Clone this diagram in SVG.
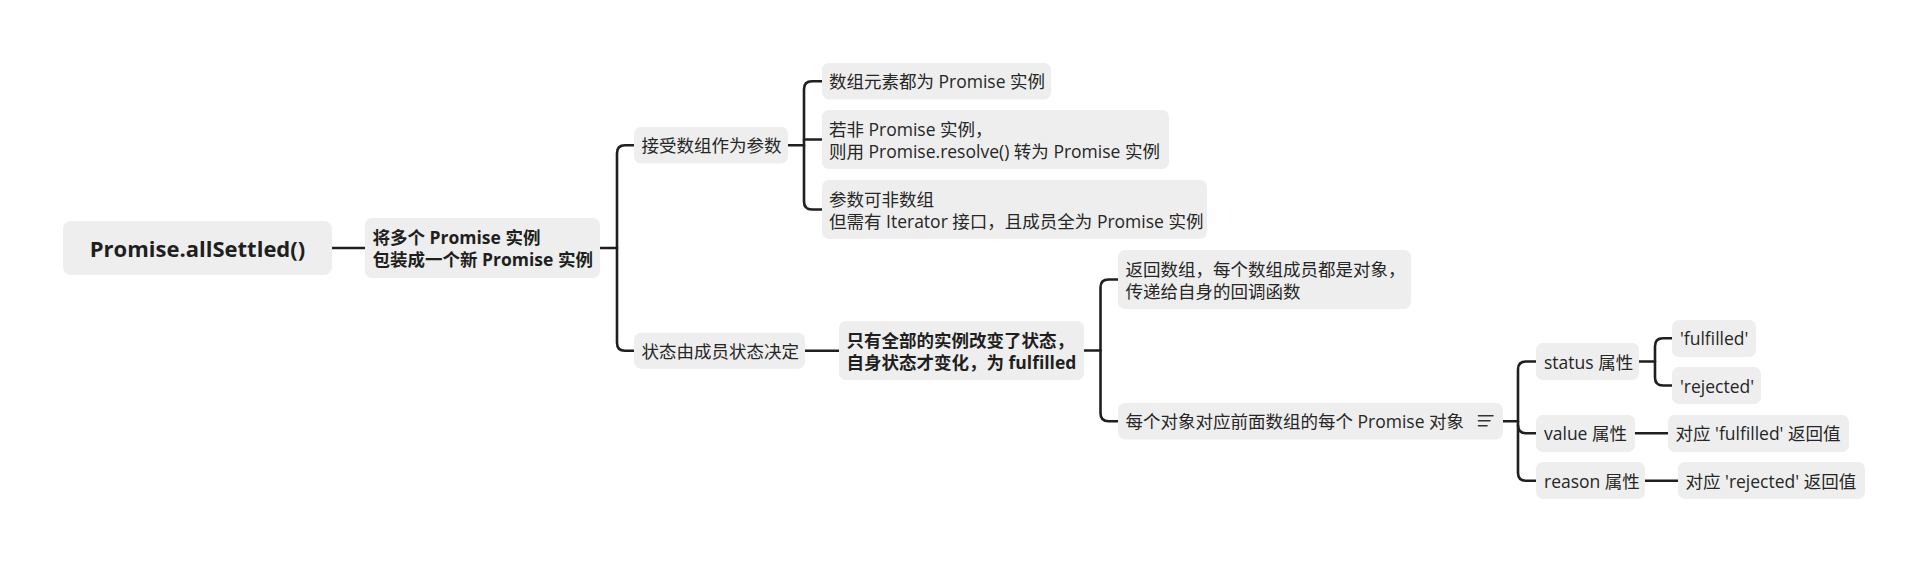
<svg xmlns="http://www.w3.org/2000/svg" width="1928" height="562" viewBox="0 0 1928 562">
<style>
.box{fill:#eeeeee}
.t{font-family:"Open Sans","Noto Sans CJK SC",sans-serif;font-size:17.5px;fill:#262626}
.b{font-weight:bold;fill:#1f1f1f}
.root{font-family:"Open Sans","Noto Sans CJK SC",sans-serif;font-size:22px;font-weight:bold;fill:#1f1f1f}
.c{fill:none;stroke:#1f1f1f;stroke-width:2.6;stroke-linecap:round;stroke-linejoin:round}
.ic{stroke:#333;stroke-width:1.6;stroke-linecap:round}
</style>
<rect width="1928" height="562" fill="#ffffff"/>
<g id="connectors">
<path class="c" d="M332 248 H365"/>
<path class="c" d="M600 248 H617"/>
<path class="c" d="M634 145.3 H625 Q617 145.3 617 153.3 V342.7 Q617 350.7 625 350.7 H634"/>
<path class="c" d="M788 145.3 H804"/>
<path class="c" d="M822 81.3 H812 Q804 81.3 804 89.3 V201.5 Q804 209.5 812 209.5 H822"/>
<path class="c" d="M804 139.5 H822"/>
<path class="c" d="M805 350.7 H839"/>
<path class="c" d="M1084 350.5 H1100.5"/>
<path class="c" d="M1118 279.5 H1108.5 Q1100.5 279.5 1100.5 287.5 V413.3 Q1100.5 421.3 1108.5 421.3 H1118"/>
<path class="c" d="M1503 421.3 H1518"/>
<path class="c" d="M1536 361.5 H1526 Q1518 361.5 1518 369.5 V472.7 Q1518 480.7 1526 480.7 H1536"/>
<path class="c" d="M1518 425.3 Q1518 433.3 1526 433.3 H1536"/>
<path class="c" d="M1639 361.5 H1655"/>
<path class="c" d="M1672 338.3 H1663 Q1655 338.3 1655 346.3 V377.5 Q1655 385.5 1663 385.5 H1672"/>
<path class="c" d="M1635 433.3 H1668"/>
<path class="c" d="M1645 480.7 H1678"/>
</g>
<g id="root">
<rect class="box" x="63" y="221" width="269" height="54" rx="8"/>
<text class="root" x="197.5" y="256.5" text-anchor="middle">Promise.allSettled()</text>
</g>
<g id="n-wrap">
<rect class="box" x="365" y="218" width="235" height="60" rx="7"/>
<text class="t b" x="372.5"><tspan x="372.5" y="244">将多个 Promise 实例</tspan><tspan x="372.5" y="266">包装成一个新 Promise 实例</tspan></text>
</g>
<g id="n-accept">
<rect class="box" x="634" y="127" width="154" height="36.6" rx="7"/>
<text class="t" x="641.5" y="152.3">接受数组作为参数</text>
</g>
<g id="n-state">
<rect class="box" x="634" y="332.7" width="171" height="36" rx="7"/>
<text class="t" x="641.5" y="357.7">状态由成员状态决定</text>
</g>
<g id="n-elements">
<rect class="box" x="822" y="63" width="229" height="36.6" rx="7"/>
<text class="t" x="829" y="88.3">数组元素都为 Promise 实例</text>
</g>
<g id="n-nonpromise">
<rect class="box" x="822" y="110" width="347" height="59" rx="7"/>
<text class="t" x="829"><tspan x="829" y="135.5">若非 Promise 实例，</tspan><tspan x="829" y="157.5">则用 Promise.resolve() 转为 Promise 实例</tspan></text>
</g>
<g id="n-iterator">
<rect class="box" x="822" y="180" width="385" height="59" rx="7"/>
<text class="t" x="829"><tspan x="829" y="205.5">参数可非数组</tspan><tspan x="829" y="227.5">但需有 Iterator 接口，且成员全为 Promise 实例</tspan></text>
</g>
<g id="n-all">
<rect class="box" x="839" y="321" width="245" height="59" rx="7"/>
<text class="t b" x="846.5"><tspan x="846.5" y="346.5">只有全部的实例改变了状态，</tspan><tspan x="846.5" y="368.5">自身状态才变化，为 fulfilled</tspan></text>
</g>
<g id="n-return">
<rect class="box" x="1118" y="250" width="293" height="59" rx="7"/>
<text class="t" x="1125.5"><tspan x="1125.5" y="275.5">返回数组，每个数组成员都是对象，</tspan><tspan x="1125.5" y="297.5">传递给自身的回调函数</tspan></text>
</g>
<g id="n-each">
<rect class="box" x="1118" y="403" width="385" height="36.6" rx="7"/>
<text class="t" x="1125.5" y="428.3">每个对象对应前面数组的每个 Promise 对象</text>
<line class="ic" x1="1478.5" y1="415.7" x2="1493" y2="415.7"/>
<line class="ic" x1="1478.5" y1="420.7" x2="1490" y2="420.7"/>
<line class="ic" x1="1478.5" y1="425.7" x2="1487" y2="425.7"/>
</g>
<g id="n-status">
<rect class="box" x="1536" y="343" width="103" height="37" rx="7"/>
<text class="t" x="1544" y="368.5">status 属性</text>
</g>
<g id="n-value">
<rect class="box" x="1536" y="415" width="99" height="37" rx="7"/>
<text class="t" x="1544" y="440.3">value 属性</text>
</g>
<g id="n-reason">
<rect class="box" x="1536" y="462" width="109" height="37" rx="7"/>
<text class="t" x="1544" y="487.7">reason 属性</text>
</g>
<g id="n-fulfilled">
<rect class="box" x="1672" y="320" width="84" height="37" rx="7"/>
<text class="t" x="1680" y="345.3">'fulfilled'</text>
</g>
<g id="n-rejected">
<rect class="box" x="1672" y="367" width="89" height="37" rx="7"/>
<text class="t" x="1680" y="392.5">'rejected'</text>
</g>
<g id="n-value-desc">
<rect class="box" x="1668" y="415" width="181" height="37" rx="7"/>
<text class="t" x="1675.5" y="440.3">对应 'fulfilled' 返回值</text>
</g>
<g id="n-reason-desc">
<rect class="box" x="1678" y="462" width="187" height="37" rx="7"/>
<text class="t" x="1685.5" y="487.7">对应 'rejected' 返回值</text>
</g>
</svg>
